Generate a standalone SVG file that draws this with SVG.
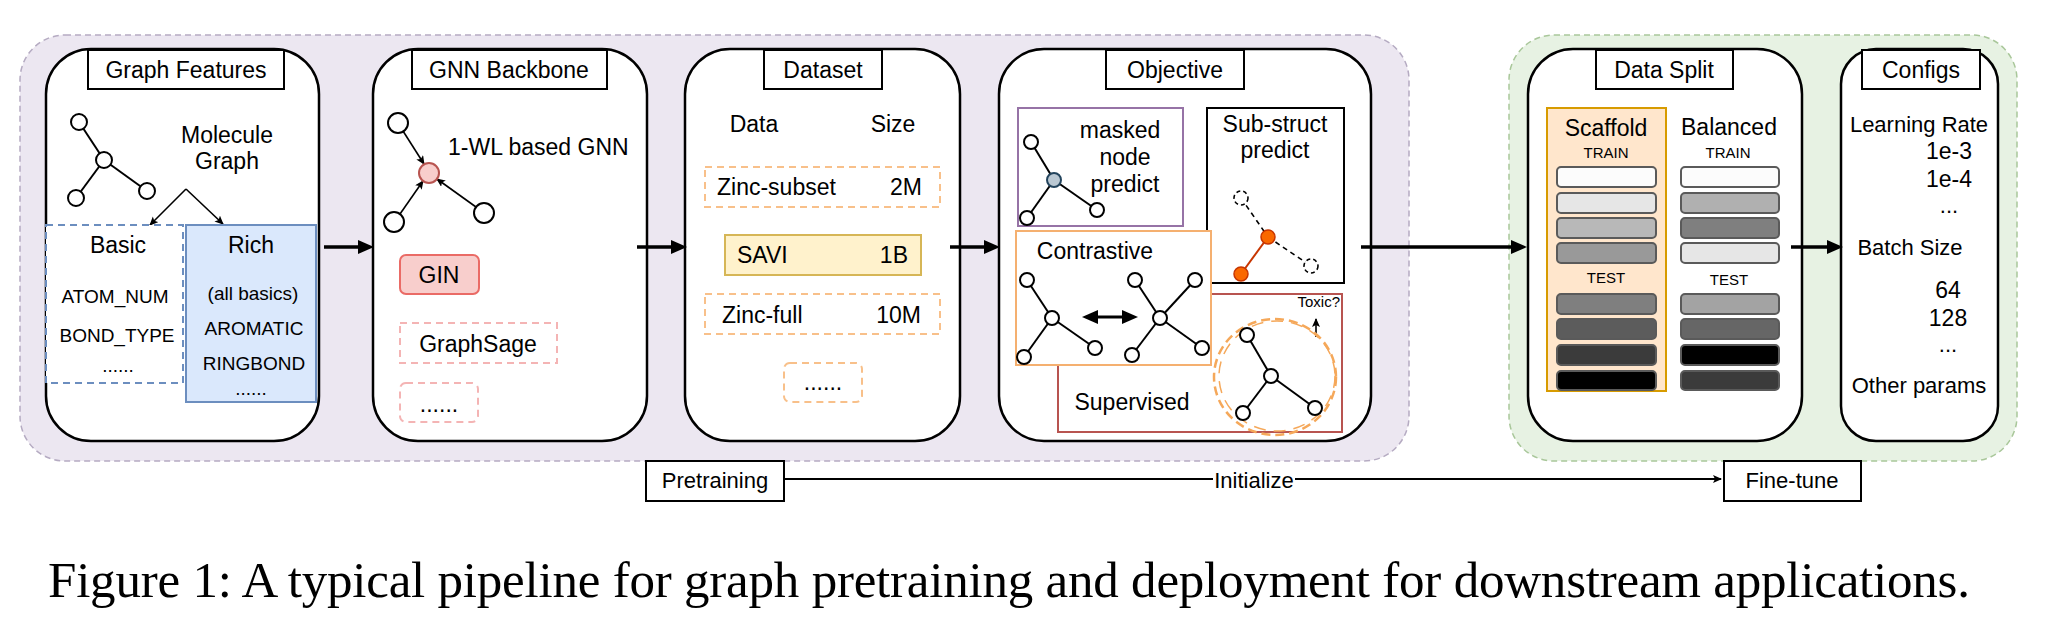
<svg xmlns="http://www.w3.org/2000/svg" width="2048" height="624" viewBox="0 0 2048 624">
<defs>
<style>
text{font-family:"Liberation Sans",Arial,sans-serif;fill:#000}
.t23{font-size:23px}
.t22{font-size:22px}
.t19{font-size:19px}
.t15{font-size:15px}
.c{text-anchor:middle}
.e{text-anchor:end}
.panel{fill:#fff;stroke:#000;stroke-width:2.5}
.title{fill:#fff;stroke:#000;stroke-width:2}
.node{fill:#fff;stroke:#000;stroke-width:2}
.edge{stroke:#000;stroke-width:2;fill:none}
.big{stroke:#000;stroke-width:3.5;fill:none}
.thin{stroke:#000;stroke-width:1.6;fill:none}
.odash{fill:#fff;stroke:#f8c08a;stroke-width:2;stroke-dasharray:7 5}
.pdash{fill:#fff;stroke:#f4b4b4;stroke-width:2;stroke-dasharray:7 5}
.bar{stroke:#5a5a5a;stroke-width:2}
.cap{font-family:"Liberation Serif","Times New Roman",serif;font-size:51px}
</style>
<marker id="ah" markerUnits="userSpaceOnUse" markerWidth="18" markerHeight="16" refX="6" refY="7" orient="auto">
<path d="M0,0 L16,7 L0,14 z" fill="#000"/>
</marker>
<marker id="ahs" markerUnits="userSpaceOnUse" markerWidth="12" markerHeight="10" refX="8" refY="4" orient="auto">
<path d="M0,0 L9,4 L0,8 L2,4 z" fill="#000"/>
</marker>
<marker id="ahd" markerUnits="userSpaceOnUse" markerWidth="18" markerHeight="16" refX="6" refY="7" orient="auto-start-reverse">
<path d="M0,0 L16,7 L0,14 z" fill="#000"/>
</marker>
</defs>
<rect width="2048" height="624" fill="#fff"/>

<g id="pretraining-group">
<rect x="20" y="35" width="1389" height="426" rx="45" fill="#ece7f1" stroke="#b5abc2" stroke-width="1.5" stroke-dasharray="6 4"/>
</g>
<g id="finetune-group">
<rect x="1509" y="35" width="508" height="426" rx="45" fill="#e7f2e3" stroke="#a9c79a" stroke-width="1.5" stroke-dasharray="6 4"/>
</g>

<g id="graph-features">
<rect class="panel" x="46" y="49" width="273" height="392" rx="45"/>
<rect class="title" x="88" y="50" width="196" height="39"/>
<text class="t23 c" x="186" y="78">Graph Features</text>
<line class="edge" x1="79" y1="122" x2="104" y2="160"/>
<line class="edge" x1="104" y1="160" x2="76" y2="198"/>
<line class="edge" x1="104" y1="160" x2="147" y2="191"/>
<circle class="node" cx="79" cy="122" r="8"/>
<circle class="node" cx="104" cy="160" r="8" stroke="#23445d"/>
<circle class="node" cx="76" cy="198" r="8"/>
<circle class="node" cx="147" cy="191" r="8"/>
<text class="t23 c" x="227" y="143">Molecule</text>
<text class="t23 c" x="227" y="169">Graph</text>
<line class="thin" x1="186" y1="189" x2="150" y2="225" marker-end="url(#ahs)"/>
<line class="thin" x1="186" y1="189" x2="223" y2="224" marker-end="url(#ahs)"/>
<rect x="46" y="225" width="137" height="158" fill="#fff" stroke="#6c8ebf" stroke-width="2" stroke-dasharray="7 5"/>
<rect x="186" y="225" width="130" height="177" fill="#dae8fc" stroke="#6c8ebf" stroke-width="2"/>
<text class="t23 c" x="118" y="253">Basic</text>
<text class="t23 c" x="251" y="253">Rich</text>
<text class="t19 c" x="115" y="303">ATOM_NUM</text>
<text class="t19 c" x="117" y="342">BOND_TYPE</text>
<text class="t19 c" x="118" y="372">......</text>
<text class="t19 c" x="253" y="300">(all basics)</text>
<text class="t19 c" x="254" y="335">AROMATIC</text>
<text class="t19 c" x="254" y="370">RINGBOND</text>
<text class="t19 c" x="251" y="395">......</text>
</g>

<g id="gnn-backbone">
<rect class="panel" x="373" y="49" width="274" height="392" rx="45"/>
<rect class="title" x="412" y="50" width="195" height="39"/>
<text class="t23 c" x="509" y="78">GNN Backbone</text>
<line class="thin" x1="403" y1="131" x2="424" y2="164" marker-end="url(#ahs)"/>
<line class="thin" x1="400" y1="214" x2="423" y2="181" marker-end="url(#ahs)"/>
<line class="thin" x1="476" y1="207" x2="437" y2="179" marker-end="url(#ahs)"/>
<circle class="node" cx="398" cy="123" r="10"/>
<circle class="node" cx="394" cy="222" r="10"/>
<circle class="node" cx="484" cy="213" r="10"/>
<circle cx="429" cy="173" r="10" fill="#f8cecc" stroke="#b85450" stroke-width="2"/>
<text class="t23" x="448" y="155">1-WL based GNN</text>
<rect x="400" y="255" width="79" height="39" rx="6" fill="#f8cecc" stroke="#ea6b66" stroke-width="2"/>
<text class="t23 c" x="439" y="283">GIN</text>
<rect class="pdash" x="400" y="323" width="157" height="40"/>
<text class="t23 c" x="478" y="352">GraphSage</text>
<rect class="pdash" x="400" y="383" width="78" height="39" rx="6"/>
<text class="t23 c" x="439" y="412">......</text>
</g>

<g id="dataset">
<rect class="panel" x="685" y="49" width="275" height="392" rx="45"/>
<rect class="title" x="764" y="50" width="118" height="39"/>
<text class="t23 c" x="823" y="78">Dataset</text>
<text class="t23 c" x="754" y="132">Data</text>
<text class="t23 c" x="893" y="132">Size</text>
<rect class="odash" x="705" y="167" width="235" height="40"/>
<text class="t23" x="717" y="195">Zinc-subset</text>
<text class="t23 e" x="922" y="195">2M</text>
<rect x="725" y="235" width="196" height="40" fill="#fff2cc" stroke="#d6b656" stroke-width="2"/>
<text class="t23" x="737" y="263">SAVI</text>
<text class="t23 e" x="908" y="263">1B</text>
<rect class="odash" x="705" y="294" width="235" height="40"/>
<text class="t23" x="722" y="323">Zinc-full</text>
<text class="t23 e" x="921" y="323">10M</text>
<rect class="odash" x="784" y="363" width="78" height="39" rx="6"/>
<text class="t23 c" x="823" y="390">......</text>
</g>

<g id="objective">
<rect class="panel" x="999" y="49" width="372" height="392" rx="45"/>
<rect class="title" x="1106" y="50" width="138" height="39"/>
<text class="t23 c" x="1175" y="78">Objective</text>
<g id="masked-node">
<rect x="1018" y="108" width="165" height="118" fill="#fff" stroke="#9673a6" stroke-width="2"/>
<line class="edge" x1="1031" y1="142" x2="1054" y2="180"/>
<line class="edge" x1="1054" y1="180" x2="1027" y2="218"/>
<line class="edge" x1="1054" y1="180" x2="1097" y2="210"/>
<circle class="node" cx="1031" cy="142" r="7"/>
<circle cx="1054" cy="180" r="7" fill="#bac8d3" stroke="#23445d" stroke-width="2"/>
<circle class="node" cx="1027" cy="218" r="7"/>
<circle class="node" cx="1097" cy="210" r="7"/>
<text class="t23 c" x="1120" y="138">masked</text>
<text class="t23 c" x="1125" y="165">node</text>
<text class="t23 c" x="1125" y="192">predict</text>
</g>
<g id="sub-struct">
<rect x="1207" y="108" width="137" height="175" fill="#fff" stroke="#000" stroke-width="2"/>
<text class="t23 c" x="1275" y="132">Sub-struct</text>
<text class="t23 c" x="1275" y="158">predict</text>
<line x1="1241" y1="198" x2="1268" y2="237" stroke="#000" stroke-width="1.6" stroke-dasharray="5 4"/>
<line x1="1268" y1="237" x2="1311" y2="266" stroke="#000" stroke-width="1.6" stroke-dasharray="5 4"/>
<line x1="1268" y1="237" x2="1241" y2="274" stroke="#c73500" stroke-width="2"/>
<circle cx="1241" cy="198" r="7" fill="#fff" stroke="#000" stroke-width="1.6" stroke-dasharray="4 3"/>
<circle cx="1311" cy="266" r="7" fill="#fff" stroke="#000" stroke-width="1.6" stroke-dasharray="4 3"/>
<circle cx="1268" cy="237" r="7" fill="#fa6800" stroke="#c73500" stroke-width="1.5"/>
<circle cx="1241" cy="274" r="7" fill="#fa6800" stroke="#c73500" stroke-width="1.5"/>
</g>
<g id="supervised">
<rect x="1058" y="294" width="284" height="138" fill="#fff" stroke="#b85450" stroke-width="2"/>
<text class="t23 c" x="1132" y="410">Supervised</text>
<text class="t15 e" x="1340" y="307">Toxic?</text>
<line class="thin" x1="1316" y1="337" x2="1316" y2="319" marker-end="url(#ahs)"/>
<ellipse cx="1275" cy="377" rx="61" ry="58" fill="none" stroke="#f5a85a" stroke-width="2.5" stroke-dasharray="9 5"/>
<ellipse cx="1277" cy="376" rx="58" ry="55" fill="none" stroke="#f5a85a" stroke-width="1.5" stroke-dasharray="12 8"/>
<line class="edge" x1="1247" y1="335" x2="1271" y2="376"/>
<line class="edge" x1="1271" y1="376" x2="1243" y2="413"/>
<line class="edge" x1="1271" y1="376" x2="1315" y2="408"/>
<circle class="node" cx="1247" cy="335" r="7"/>
<circle class="node" cx="1271" cy="376" r="7" stroke="#23445d"/>
<circle class="node" cx="1243" cy="413" r="7"/>
<circle class="node" cx="1315" cy="408" r="7"/>
</g>
<g id="contrastive">
<rect x="1016" y="231" width="195" height="134" fill="#fff" stroke="#f5b070" stroke-width="2"/>
<text class="t23 c" x="1095" y="259">Contrastive</text>
<line class="edge" x1="1027" y1="280" x2="1052" y2="318"/>
<line class="edge" x1="1052" y1="318" x2="1024" y2="357"/>
<line class="edge" x1="1052" y1="318" x2="1095" y2="348"/>
<circle class="node" cx="1027" cy="280" r="7"/>
<circle class="node" cx="1052" cy="318" r="7" stroke="#23445d"/>
<circle class="node" cx="1024" cy="357" r="7"/>
<circle class="node" cx="1095" cy="348" r="7"/>
<line x1="1092" y1="317" x2="1128" y2="317" stroke="#000" stroke-width="3" marker-start="url(#ahd)" marker-end="url(#ahd)"/>
<line class="edge" x1="1135" y1="280" x2="1160" y2="318"/>
<line class="edge" x1="1195" y1="280" x2="1160" y2="318"/>
<line class="edge" x1="1160" y1="318" x2="1132" y2="355"/>
<line class="edge" x1="1160" y1="318" x2="1202" y2="348"/>
<circle class="node" cx="1135" cy="280" r="7"/>
<circle class="node" cx="1195" cy="280" r="7"/>
<circle class="node" cx="1160" cy="318" r="7" stroke="#23445d"/>
<circle class="node" cx="1132" cy="355" r="7"/>
<circle class="node" cx="1202" cy="348" r="7"/>
</g>
</g>

<g id="data-split">
<rect class="panel" x="1528" y="49" width="274" height="392" rx="45"/>
<rect class="title" x="1596" y="50" width="137" height="39"/>
<text class="t23 c" x="1664" y="78">Data Split</text>
<rect x="1547" y="108" width="119" height="283" fill="#ffe6cc" stroke="#d79b00" stroke-width="2"/>
<text class="t23 c" x="1606" y="136">Scaffold</text>
<text class="t23 c" x="1729" y="135">Balanced</text>
<text class="t15 c" x="1606" y="158">TRAIN</text>
<text class="t15 c" x="1728" y="158">TRAIN</text>
<text class="t15 c" x="1606" y="283">TEST</text>
<text class="t15 c" x="1729" y="285">TEST</text>
<rect class="bar" x="1557" y="167" width="99" height="20" rx="4" fill="#fcfcfc"/>
<rect class="bar" x="1557" y="193" width="99" height="20" rx="4" fill="#e6e6e6"/>
<rect class="bar" x="1557" y="218" width="99" height="20" rx="4" fill="#b8b8b8"/>
<rect class="bar" x="1557" y="243" width="99" height="20" rx="4" fill="#999999"/>
<rect class="bar" x="1557" y="294" width="99" height="20" rx="4" fill="#7f7f7f"/>
<rect class="bar" x="1557" y="319" width="99" height="20" rx="4" fill="#5c5c5c"/>
<rect class="bar" x="1557" y="345" width="99" height="20" rx="4" fill="#3b3b3b"/>
<rect class="bar" x="1557" y="371" width="99" height="19" rx="4" fill="#000000"/>
<rect class="bar" x="1681" y="167" width="98" height="20" rx="4" fill="#fcfcfc"/>
<rect class="bar" x="1681" y="193" width="98" height="20" rx="4" fill="#b0b0b0"/>
<rect class="bar" x="1681" y="218" width="98" height="20" rx="4" fill="#7f7f7f"/>
<rect class="bar" x="1681" y="243" width="98" height="20" rx="4" fill="#e6e6e6"/>
<rect class="bar" x="1681" y="294" width="98" height="20" rx="4" fill="#a3a3a3"/>
<rect class="bar" x="1681" y="319" width="98" height="20" rx="4" fill="#666666"/>
<rect class="bar" x="1681" y="345" width="98" height="20" rx="4" fill="#000000"/>
<rect class="bar" x="1681" y="371" width="98" height="19" rx="4" fill="#3b3b3b"/>
</g>

<g id="configs">
<rect class="panel" x="1841" y="49" width="157" height="392" rx="35"/>
<rect class="title" x="1862" y="50" width="118" height="39"/>
<text class="t23 c" x="1921" y="78">Configs</text>
<text class="t22 c" x="1919" y="132">Learning Rate</text>
<text class="t23 c" x="1949" y="159">1e-3</text>
<text class="t23 c" x="1949" y="187">1e-4</text>
<text class="t22 c" x="1949" y="213">...</text>
<text class="t22 c" x="1910" y="255">Batch Size</text>
<text class="t23 c" x="1948" y="298">64</text>
<text class="t23 c" x="1948" y="326">128</text>
<text class="t22 c" x="1948" y="352">...</text>
<text class="t22 c" x="1919" y="393">Other params</text>
</g>

<g id="pretraining">
<rect class="title" x="646" y="461" width="138" height="40"/>
<text class="t22 c" x="715" y="488">Pretraining</text>
</g>
<g id="fine-tune">
<rect class="title" x="1724" y="461" width="137" height="40"/>
<text class="t22 c" x="1792" y="488">Fine-tune</text>
</g>

<g id="connectors">
<line class="big" x1="324" y1="247" x2="364" y2="247" marker-end="url(#ah)"/>
<line class="big" x1="637" y1="247" x2="677" y2="247" marker-end="url(#ah)"/>
<line class="big" x1="950" y1="247" x2="990" y2="247" marker-end="url(#ah)"/>
<line class="big" x1="1361" y1="247" x2="1517" y2="247" marker-end="url(#ah)"/>
<line class="big" x1="1791" y1="247" x2="1833" y2="247" marker-end="url(#ah)"/>
<line x1="784" y1="479" x2="1721" y2="479" stroke="#000" stroke-width="1.8" marker-end="url(#ahs)"/>
<rect x="1213" y="468" width="82" height="24" fill="#fff"/>
<text class="t22 c" x="1254" y="488">Initialize</text>
</g>

<text class="cap" x="48" y="597" textLength="1922">Figure 1: A typical pipeline for graph pretraining and deployment for downstream applications.</text>
</svg>
